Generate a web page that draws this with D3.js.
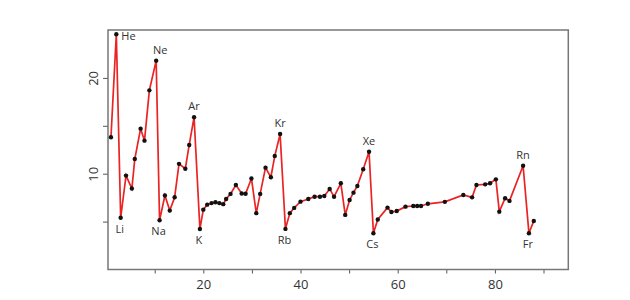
<!DOCTYPE html>
<html><head><meta charset="utf-8">
<script src="https://cdn.jsdelivr.net/npm/d3@7"></script>
<style>body{margin:0;background:#fff;} text{font-family:"Open Sans",sans-serif;}</style>
</head><body><svg id="c" width="630" height="300"></svg>
<script>
// atomic number and first ionisation energy (eV)
const atomicNumber = [1.0,2.1,3.0,4.1,5.3,5.9,7.1,7.9,8.9,10.3,11.0,12.1,13.1,14.1,15.0,16.3,17.1,18.1,19.3,
 20.0,20.8,21.7,22.5,23.3,24.1,24.7,25.6,26.7,27.9,28.7,29.9,30.9,31.7,32.8,33.9,34.7,35.8,36.9,
 37.8,38.7,40.0,41.6,42.9,44.0,44.9,46.0,46.9,48.3,49.2,50.1,50.9,51.7,52.9,54.1,
 55.0,55.9,57.9,58.7,59.8,61.6,63.2,64.0,64.8,66.2,69.7,73.5,75.3,76.2,78.0,79.0,80.2,80.9,82.1,83.0,85.8,87.0,88.0];
const energy = [13.8,24.55,5.4,9.8,8.45,11.53,14.7,13.45,18.7,21.8,5.14,7.73,6.15,7.54,11.03,10.52,13.0,15.9,4.22,
 6.25,6.77,6.93,7.02,6.93,6.82,7.36,7.89,8.82,7.94,7.9,9.5,5.88,7.89,10.63,9.63,11.84,14.14,4.24,
 5.88,6.43,7.08,7.36,7.6,7.6,7.68,8.41,7.6,9.0,5.7,7.26,8.02,8.72,10.46,12.29,
 3.79,5.22,6.46,6.0,6.1,6.56,6.63,6.63,6.63,6.86,7.06,7.78,7.53,8.82,8.89,9.0,9.41,6.04,7.44,7.16,10.83,3.79,5.07];
const labelsAbove = ["He","Ne","Ar","Kr","Xe","Rn"];
const labelsBelow = ["Li","Na","K","Rb","Cs","Fr"];
const aboveIndex = [1,9,17,36,53,74];
const belowIndex = [2,10,18,37,54,75];
const xTicks = [10,20,30,40,50,60,70,80,90];
const xTickLabels = [20,40,60,80];
const yTicks = [5,10,15,20];
const yTickLabels = [10,20];

const svg = d3.select("#c");
const x = d3.scaleLinear().domain([0.39,95.1]).range([108,568.3]);
const y = d3.scaleLinear().domain([0,25]).range([269.5,30]);

const axX = svg.append("g").attr("transform","translate(0,269.5)")
  .call(d3.axisBottom(x).tickValues(xTicks).tickSize(4).tickPadding(6)
    .tickFormat(d => xTickLabels.includes(d) ? d : ""));
axX.select(".domain").remove();
axX.selectAll("line").attr("stroke","#555");
axX.selectAll("text").attr("font-size",13).attr("fill","#333");

const axY = svg.append("g").attr("transform","translate(108,0)")
  .call(d3.axisLeft(y).tickValues(yTicks).tickSize(5).tickFormat(d => yTickLabels.includes(d) ? d : ""));
axY.select(".domain").remove();
axY.selectAll("line").attr("stroke","#555");
axY.selectAll("text").attr("font-size",13).attr("fill","#333")
  .attr("x",0).attr("y",0).attr("dy","0.35em").attr("text-anchor","middle")
  .attr("transform","translate(-15,0) rotate(-90)");

svg.append("rect").attr("x",108).attr("y",30).attr("width",460.3).attr("height",239.5)
  .attr("fill","none").attr("stroke","#777").attr("stroke-width",1.5);

const pts = atomicNumber.map((a,i)=>[a,energy[i]]);
svg.append("path").datum(pts).attr("fill","none").attr("stroke","#ea2323").attr("stroke-width",1.7)
  .attr("d", d3.line().x(d=>x(d[0])).y(d=>y(d[1])));
svg.selectAll("circle.p").data(pts).join("circle").attr("class","p")
  .attr("cx",d=>x(d[0])).attr("cy",d=>y(d[1])).attr("r",2.2).attr("fill","#111");

labelsAbove.forEach((l,k)=>{
  const d = pts[aboveIndex[k]];
  const t = svg.append("text").text(l).attr("font-size",11).attr("fill","#333").attr("dominant-baseline","middle");
  if (l==="He") t.attr("x",x(d[0])+5).attr("y",y(d[1])+3).attr("text-anchor","start");
  else t.attr("x",x(d[0]) + (l==="Ne" ? 4 : 0)).attr("y",y(d[1])-10).attr("text-anchor","middle");
});
labelsBelow.forEach((l,k)=>{
  const d = pts[belowIndex[k]];
  svg.append("text").text(l).attr("font-size",11).attr("fill","#333").attr("dominant-baseline","middle")
    .attr("x",x(d[0])-1).attr("y",y(d[1])+12).attr("text-anchor","middle");
});
</script></body></html>
